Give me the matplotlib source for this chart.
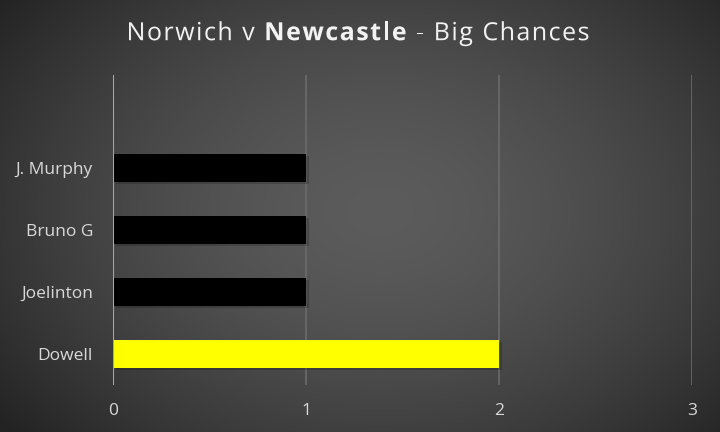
import matplotlib

matplotlib.use("Agg")

import matplotlib.pyplot as plt
import matplotlib.patheffects as pe
import numpy as np

# data, bottom to top
players = ["Dowell", "Joelinton", "Bruno G", "J. Murphy"]
big_chances = [2, 1, 1, 1]
bar_colors = ["#ffff00", "#000000", "#000000", "#000000"]
x_ticks = [0, 1, 2, 3]

plt.rcParams["font.family"] = ["Open Sans", "DejaVu Sans"]

fig = plt.figure(figsize=(7.2, 4.32), dpi=100)

# radial gradient background
bg = fig.add_axes([0, 0, 1, 1], zorder=-10)
yy, xx = np.mgrid[0:432, 0:720]
r = np.sqrt(((xx - 380) / 480.0) ** 2 + ((yy - 210) / 340.0) ** 2)
r = np.clip(r, 0, 1)
shade = 0.36 - 0.22 * r ** 1.6
bg.imshow(np.dstack([shade] * 3), extent=[0, 1, 0, 1], aspect="auto")
bg.axis("off")

ax = fig.add_axes([0.157, 0.1088, 0.804, 0.7175])
ax.set_facecolor("none")

y = np.arange(len(players))
# soft shadow
ax.barh(y - 0.025, big_chances, height=0.45, left=0.015, color="black", alpha=0.18, zorder=2)
ax.barh(y, big_chances, height=0.45, color=bar_colors, zorder=3)

ax.set_xlim(0, 3)
ax.set_ylim(-0.5, 4.5)
ax.set_xticks(x_ticks)
ax.set_xticklabels([str(t) for t in x_ticks])
ax.set_yticks(y)
ax.set_yticklabels(players)
ax.tick_params(length=0, colors="#d9d9d9", labelsize=12.5)
ax.tick_params(axis="x", pad=13)
ax.tick_params(axis="y", pad=14.5)
for s in ax.spines.values():
    s.set_visible(False)
ax.grid(axis="x", color="#6b6b6b", linewidth=1.2, zorder=1)
ax.axvline(0, color="#a6a6a6", linewidth=1.5, zorder=4)

# title with bold team name, drawn letter by letter for wider tracking
shadow = [pe.withSimplePatchShadow(offset=(1, -1), alpha=0.5)]
parts = [("Norwich v ", "normal"), ("Newcastle", "bold"), (" - Big Chances", "normal")]
tracking = 1.5
fig.canvas.draw()
renderer = fig.canvas.get_renderer()
chars = []
for s, w in parts:
    for ch in s:
        t = fig.text(0, 0.922, ch, fontsize=18, fontweight=w, color="#f2f2f2",
                     ha="left", va="center", path_effects=shadow)
        if ch == " ":
            cw = fig.text(0, 0, "a a", fontsize=18, fontweight=w)
            wa = fig.text(0, 0, "aa", fontsize=18, fontweight=w)
            width = cw.get_window_extent(renderer).width - wa.get_window_extent(renderer).width
            cw.remove()
            wa.remove()
        else:
            width = t.get_window_extent(renderer).width
        chars.append((t, width))
total = sum(wd for _, wd in chars) + tracking * (len(chars) - 1)
x0 = 358 - total / 2
for t, wd in chars:
    t.set_x(x0 / 720)
    x0 += wd + tracking

fig.savefig("out.png", dpi=100)
